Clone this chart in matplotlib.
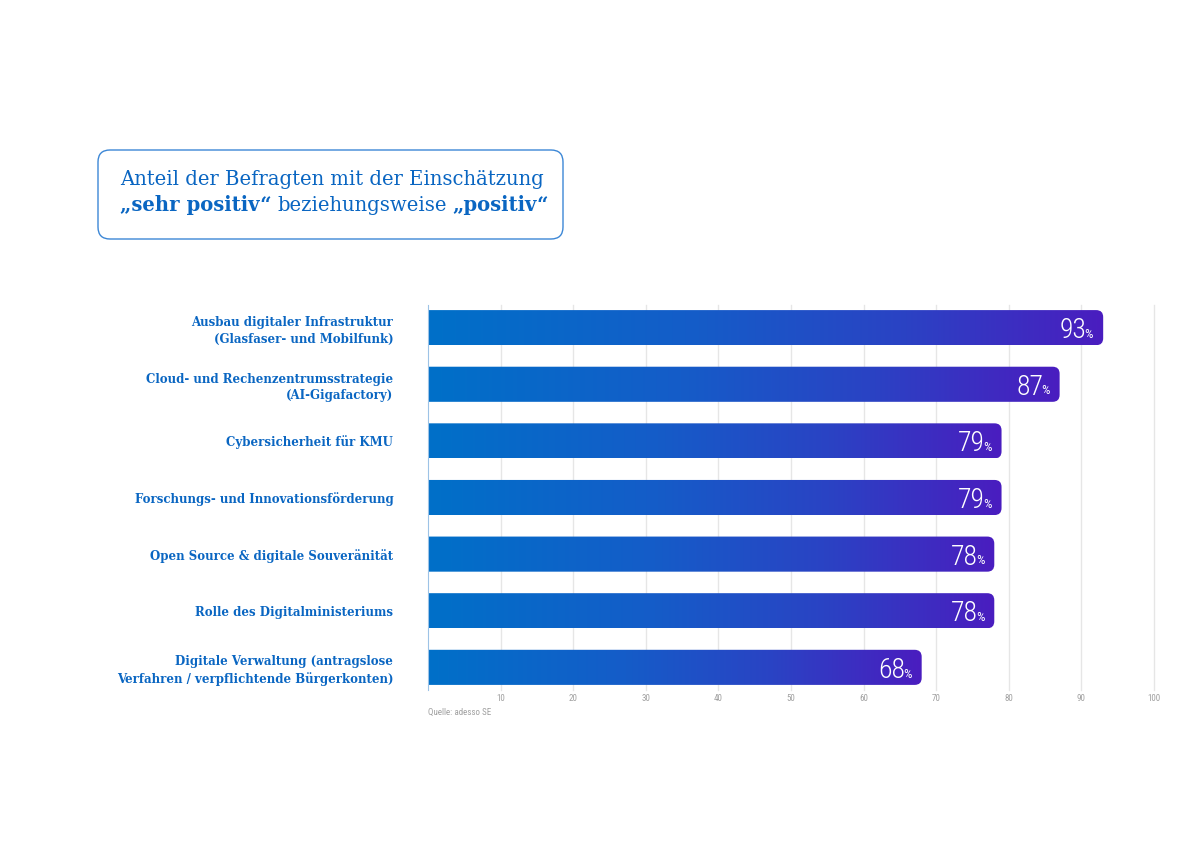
import matplotlib
matplotlib.use('Agg')
import matplotlib.pyplot as plt
import numpy as np
from matplotlib import font_manager
from matplotlib.colors import LinearSegmentedColormap
from matplotlib.path import Path
from matplotlib.patches import PathPatch, FancyBboxPatch

# Daten
kategorien = [
    'Ausbau digitaler Infrastruktur\n(Glasfaser- und Mobilfunk)',
    'Cloud- und Rechenzentrumsstrategie\n(AI-Gigafactory)',
    'Cybersicherheit für KMU',
    'Forschungs- und Innovationsförderung',
    'Open Source & digitale Souveränität',
    'Rolle des Digitalministeriums',
    'Digitale Verwaltung (antragslose\nVerfahren / verpflichtende Bürgerkonten)',
]
werte = [93, 87, 79, 79, 78, 78, 68]
x_ticks = [10, 20, 30, 40, 50, 60, 70, 80, 90, 100]
quelle = 'Quelle: adesso SE'

BLAU = '#0a66c2'
GRAU = '#a0a0a0'

vorhanden = {f.name for f in font_manager.fontManager.ttflist}


def erste_schrift(namen):
    for n in namen:
        if n in vorhanden:
            return n
    return 'DejaVu Sans'


serif = erste_schrift(['DejaVu Serif', 'Liberation Serif'])
schmal = erste_schrift(['Roboto Condensed', 'Liberation Sans Narrow', 'Open Sans Condensed', 'DejaVu Sans'])

verlauf = LinearSegmentedColormap.from_list(
    'verlauf', [(0.0, '#0070c9'), (0.4, '#155cc8'), (0.7, '#2a43c4'), (1.0, '#4a1dbf')])

fig = plt.figure(figsize=(11.91, 8.42), dpi=100)
W, H = 1191, 842

# Titelbox (Pixel-Koordinaten)
bg = fig.add_axes([0, 0, 1, 1])
bg.set_xlim(0, W)
bg.set_ylim(H, 0)
bg.axis('off')
bg.add_patch(FancyBboxPatch((98, 150), 465, 89, boxstyle='round,pad=0,rounding_size=12',
                            facecolor='white', edgecolor='#3c87d6', linewidth=1))
gr = 14.1
bg.text(120, 185, 'Anteil der Befragten mit der Einschätzung', fontsize=gr,
        family=serif, color=BLAU, va='baseline', ha='left')
t = bg.text(120, 211, '„sehr positiv“', fontsize=gr, family=serif, weight='bold',
            color=BLAU, va='baseline', ha='left')
t = bg.annotate('beziehungsweise', xy=(1, 0), xycoords=t, xytext=(4, 0),
                textcoords='offset points', fontsize=gr, family=serif,
                color=BLAU, va='bottom', ha='left')
bg.annotate('„positiv“', xy=(1, 0), xycoords=t, xytext=(4, 0),
            textcoords='offset points', fontsize=gr, family=serif, weight='bold',
            color=BLAU, va='bottom', ha='left')

# Diagramm
ax = fig.add_axes([428 / W, 1 - 690 / H, 726 / W, 385 / H])
px_x = 726 / 100
px_y = 385 / 6.8
hoehe = 0.62
rx, ry = 7 / px_x, 7 / px_y

grad = np.linspace(0, 1, 256).reshape(1, -1)
for i, v in enumerate(werte):
    y0, y1 = i - hoehe / 2, i + hoehe / 2
    verts = [(0, y0), (v - rx, y0), (v, y0), (v, y0 + ry), (v, y1 - ry), (v, y1),
             (v - rx, y1), (0, y1), (0, y0)]
    codes = [Path.MOVETO, Path.LINETO, Path.CURVE3, Path.CURVE3, Path.LINETO,
             Path.CURVE3, Path.CURVE3, Path.LINETO, Path.CLOSEPOLY]
    patch = PathPatch(Path(verts, codes), facecolor='none', edgecolor='none', zorder=2)
    ax.add_patch(patch)
    im = ax.imshow(grad, cmap=verlauf, extent=(0, v, y1, y0), aspect='auto',
                   interpolation='bilinear', zorder=2)
    im.set_clip_path(patch)

    pct = ax.text(v - 10 / px_x, i + 0.18, '%', fontsize=9.5, family=schmal,
                  color='white', ha='right', va='baseline', zorder=3)
    ax.annotate(str(v), xy=(0, 0), xycoords=pct, xytext=(1.5, 2),
                textcoords='offset points', fontsize=20, family=schmal,
                weight='light', color='white', ha='right', va='baseline', zorder=3)

ax.set_xlim(0, 100)
ax.set_ylim(len(werte) - 1 + 0.4, -0.4)
ax.set_xticks(x_ticks)
ax.set_xticklabels([str(x) for x in x_ticks])
ax.set_yticks(range(len(kategorien)))
ax.set_yticklabels(kategorien)
ax.grid(axis='x', color='#e6e6e6', linewidth=1, zorder=0)
ax.set_axisbelow(True)
for gl in ax.get_xgridlines():
    gl.set_clip_on(False)
for s in ['top', 'right', 'bottom']:
    ax.spines[s].set_visible(False)
ax.spines['left'].set_color('#9dc3e6')
ax.tick_params(axis='x', length=0, pad=3, labelsize=6.5, labelcolor=GRAU)
ax.tick_params(axis='y', length=0, pad=25, labelsize=8.5, labelcolor=BLAU)
for lab in ax.get_xticklabels():
    lab.set_fontfamily(schmal)
for lab in ax.get_yticklabels():
    lab.set_fontfamily(serif)
    lab.set_fontweight('bold')
    lab.set_linespacing(1.35)

bg.text(428, 712, quelle, fontsize=6.5, family=schmal, color=GRAU, ha='left', va='center')

fig.savefig('out.png', dpi=100)
